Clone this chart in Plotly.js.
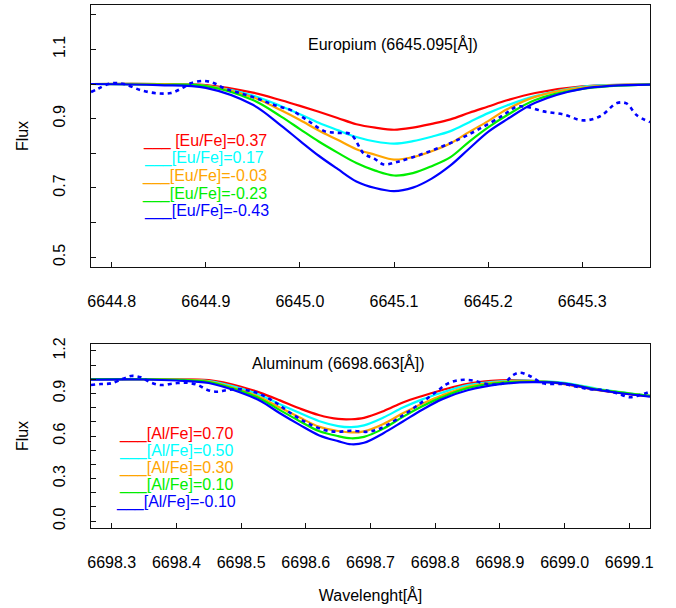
<!DOCTYPE html>
<html>
<head>
<meta charset="utf-8">
<script src="https://cdn.plot.ly/plotly-3.0.1.min.js"></script>
<style>html,body{margin:0;padding:0;background:#fff;}#chart{width:676px;height:608px;}</style>
</head>
<body>
<div id="chart"></div>
<script>
// ---------- Europium panel data ----------
const euX = [6644.778, 6644.85, 6644.90, 6644.95, 6644.98, 6645.00, 6645.02, 6645.04, 6645.06, 6645.08, 6645.10, 6645.12, 6645.14, 6645.16, 6645.18, 6645.20, 6645.22, 6645.25, 6645.30, 6645.372];
const euRed    = [1.000,1.000,0.997,0.975,0.953,0.937,0.920,0.902,0.884,0.874,0.868,0.874,0.885,0.898,0.917,0.935,0.953,0.974,0.993,0.999];
const euCyan   = [1.000,1.000,0.995,0.967,0.936,0.913,0.888,0.867,0.847,0.834,0.828,0.835,0.848,0.864,0.890,0.916,0.938,0.965,0.992,0.998];
const euOrange = [1.000,1.000,0.995,0.962,0.924,0.896,0.866,0.839,0.812,0.796,0.782,0.789,0.806,0.829,0.862,0.893,0.927,0.963,0.990,0.998];
const euGreen  = [1.000,0.998,0.994,0.954,0.906,0.870,0.834,0.802,0.772,0.750,0.736,0.743,0.763,0.789,0.834,0.875,0.910,0.954,0.986,0.998];
const euBlue   = [1.000,0.997,0.989,0.940,0.880,0.836,0.793,0.755,0.719,0.700,0.691,0.701,0.727,0.765,0.814,0.862,0.898,0.946,0.986,0.998];
const euObsX = [6644.778, 6644.786, 6644.799, 6644.813, 6644.831, 6644.849, 6644.863, 6644.874, 6644.884, 6644.898, 6644.909, 6644.920, 6644.937, 6644.955, 6644.973, 6644.991, 6645.008, 6645.026, 6645.040, 6645.054, 6645.068, 6645.079, 6645.089, 6645.103, 6645.120, 6645.145, 6645.170, 6645.191, 6645.216, 6645.230, 6645.241, 6645.259, 6645.280, 6645.301, 6645.319, 6645.337, 6645.347, 6645.358, 6645.372];
const euObsY = [0.977, 0.987, 1.002, 1.000, 0.982, 0.973, 0.974, 0.987, 1.002, 1.009, 1.002, 0.987, 0.973, 0.958, 0.939, 0.924, 0.895, 0.864, 0.859, 0.855, 0.799, 0.785, 0.768, 0.775, 0.789, 0.813, 0.842, 0.871, 0.910, 0.934, 0.934, 0.921, 0.912, 0.895, 0.907, 0.945, 0.944, 0.910, 0.890];
const euLabels = ["[Eu/Fe]=0.37", "[Eu/Fe]=0.17", "[Eu/Fe]=-0.03", "[Eu/Fe]=-0.23", "[Eu/Fe]=-0.43"];
const euTitle = "Europium (6645.095[Å])";
const euXTicks = [6644.8, 6644.9, 6645.0, 6645.1, 6645.2, 6645.3];
const euYTicks = [0.5, 0.6, 0.7, 0.8, 0.9, 1.0, 1.1, 1.2];
const euYTickText = ["0.5", "", "0.7", "", "0.9", "", "1.1", ""];

// ---------- Aluminum panel data ----------
const alX = [6698.268, 6698.35, 6698.40, 6698.45, 6698.50, 6698.53, 6698.56, 6698.59, 6698.62, 6698.65, 6698.67, 6698.69, 6698.72, 6698.75, 6698.78, 6698.81, 6698.85, 6698.90, 6698.95, 6699.00, 6699.05, 6699.10, 6699.132];
const alRed    = [1.000,1.000,1.000,0.993,0.947,0.904,0.851,0.795,0.748,0.720,0.718,0.728,0.775,0.836,0.882,0.922,0.968,0.992,0.989,0.966,0.925,0.895,0.880];
const alCyan   = [1.000,1.000,0.997,0.987,0.935,0.887,0.824,0.763,0.706,0.670,0.662,0.675,0.730,0.800,0.858,0.905,0.958,0.985,0.989,0.974,0.933,0.901,0.882];
const alOrange = [1.000,1.000,0.997,0.984,0.923,0.871,0.800,0.732,0.666,0.635,0.625,0.633,0.685,0.760,0.828,0.885,0.947,0.980,0.987,0.970,0.928,0.899,0.882];
const alGreen  = [1.000,1.000,0.996,0.980,0.916,0.861,0.782,0.706,0.635,0.599,0.584,0.594,0.652,0.735,0.810,0.872,0.937,0.975,0.983,0.969,0.928,0.899,0.882];
const alBlue   = [0.997,0.998,0.991,0.973,0.905,0.847,0.760,0.680,0.606,0.564,0.542,0.552,0.620,0.702,0.785,0.858,0.922,0.965,0.979,0.969,0.926,0.894,0.877];
const alObsX = [6698.268, 6698.283, 6698.299, 6698.319, 6698.330, 6698.345, 6698.361, 6698.376, 6698.397, 6698.417, 6698.433, 6698.448, 6698.464, 6698.479, 6698.500, 6698.526, 6698.551, 6698.577, 6698.603, 6698.629, 6698.649, 6698.670, 6698.696, 6698.716, 6698.751, 6698.777, 6698.802, 6698.818, 6698.838, 6698.859, 6698.880, 6698.905, 6698.921, 6698.931, 6698.946, 6698.967, 6698.998, 6699.019, 6699.039, 6699.060, 6699.081, 6699.101, 6699.117, 6699.132];
const alObsY = [0.959, 0.966, 0.971, 1.006, 1.023, 1.013, 0.975, 0.959, 0.971, 0.975, 0.959, 0.924, 0.912, 0.924, 0.929, 0.901, 0.842, 0.760, 0.690, 0.642, 0.630, 0.637, 0.630, 0.655, 0.748, 0.830, 0.912, 0.966, 0.994, 0.990, 0.966, 0.971, 1.030, 1.046, 1.023, 0.971, 0.966, 0.947, 0.929, 0.924, 0.901, 0.873, 0.889, 0.912];
const alLabels = ["[Al/Fe]=0.70", "[Al/Fe]=0.50", "[Al/Fe]=0.30", "[Al/Fe]=0.10", "[Al/Fe]=-0.10"];
const alTitle = "Aluminum (6698.663[Å])";
const alXTicks = [6698.3, 6698.4, 6698.5, 6698.6, 6698.7, 6698.8, 6698.9, 6699.0, 6699.1];
const alYTicks = [0.0, 0.1, 0.2, 0.3, 0.4, 0.5, 0.6, 0.7, 0.8, 0.9, 1.0, 1.1, 1.2];
const alYTickText = ["0.0", "", "", "0.3", "", "", "0.6", "", "", "0.9", "", "", "1.2"];

const colors = ["#ff0000", "#00ffff", "#ffa500", "#00ee00", "#0000ff"];
const FONT = "Liberation Sans, Arial, Helvetica, sans-serif";

const euModels = [euRed, euCyan, euOrange, euGreen, euBlue];
const alModels = [alRed, alCyan, alOrange, alGreen, alBlue];

const traces = [];
euModels.forEach((ys, i) => traces.push({
  x: euX, y: ys, xaxis: 'x', yaxis: 'y', type: 'scatter', mode: 'lines',
  name: euLabels[i], line: {color: colors[i], width: 2.2, shape: 'spline', smoothing: 1}
}));
traces.push({x: euObsX, y: euObsY, xaxis: 'x', yaxis: 'y', type: 'scatter', mode: 'lines', name: 'observed',
  line: {color: '#0000ff', width: 2.6, dash: '4px,4px', shape: 'spline', smoothing: 1}});
alModels.forEach((ys, i) => traces.push({
  x: alX, y: ys, xaxis: 'x2', yaxis: 'y2', type: 'scatter', mode: 'lines',
  name: alLabels[i], line: {color: colors[i], width: 2.2, shape: 'spline', smoothing: 1}
}));
traces.push({x: alObsX, y: alObsY, xaxis: 'x2', yaxis: 'y2', type: 'scatter', mode: 'lines', name: 'observed',
  line: {color: '#0000ff', width: 2.6, dash: '4px,4px', shape: 'spline', smoothing: 1}});

// layout geometry (pixels)
const L = 91, R = 650, T = 5, B = 528, W = R - L, H = B - T;
const px2x = p => (p - L) / W;
const py2y = p => (B - p) / H;

const annotations = [];
annotations.push({xref: 'paper', yref: 'paper', x: px2x(393), y: py2y(44), text: euTitle, showarrow: false,
  xanchor: 'center', yanchor: 'middle', font: {family: FONT, size: 16, color: '#000'}});
annotations.push({xref: 'paper', yref: 'paper', x: px2x(338), y: py2y(363), text: alTitle, showarrow: false,
  xanchor: 'center', yanchor: 'middle', font: {family: FONT, size: 16, color: '#000'}});

const euLegY = [141, 158.5, 176, 193.5, 211];
const euLegX = [141, 142, 140, 140, 142];
const euPrefix = ["___ ", "___", "___", "___", "___"];
euLabels.forEach((t, i) => annotations.push({xref: 'paper', yref: 'paper', x: px2x(euLegX[i]), y: py2y(euLegY[i]),
  text: euPrefix[i] + t, showarrow: false, xanchor: 'left', yanchor: 'middle', font: {family: FONT, size: 16, color: colors[i]}}));
const alLegY = [434, 451, 468, 485, 502];
const alLegX = [117, 117, 117, 117, 114];
alLabels.forEach((t, i) => annotations.push({xref: 'paper', yref: 'paper', x: px2x(alLegX[i]), y: py2y(alLegY[i]),
  text: "___" + t, showarrow: false, xanchor: 'left', yanchor: 'middle', font: {family: FONT, size: 16, color: colors[i]}}));

const axisCommon = {
  showline: true, mirror: true, linecolor: '#111', linewidth: 1.2, showgrid: false, zeroline: false,
  ticks: 'inside', ticklen: 5, tickwidth: 1, tickcolor: '#111',
  tickfont: {family: FONT, size: 16, color: '#000'}
};

const layout = {
  width: 676, height: 608,
  margin: {l: L, r: 676 - R, t: T, b: 608 - B},
  paper_bgcolor: '#fff', plot_bgcolor: '#fff',
  showlegend: false,
  font: {family: FONT, color: '#000'},
  xaxis: Object.assign({}, axisCommon, {domain: [0, 1], anchor: 'y', range: [6644.778, 6645.372],
    tickvals: euXTicks, tickformat: '.1f', ticklabelstandoff: 20}),
  yaxis: Object.assign({}, axisCommon, {domain: [py2y(267), 1], anchor: 'x', range: [0.472, 1.228],
    tickvals: euYTicks, ticktext: euYTickText, tickangle: -90, ticklabelstandoff: 18,
    title: {text: 'Flux', font: {family: FONT, size: 16, color: '#000'}, standoff: 18}}),
  xaxis2: Object.assign({}, axisCommon, {domain: [0, 1], anchor: 'y2', range: [6698.268, 6699.132],
    tickvals: alXTicks, tickformat: '.1f', ticklabelstandoff: 20,
    title: {text: 'Wavelenght[Å]', font: {family: FONT, size: 16, color: '#000'}, standoff: 19}}),
  yaxis2: Object.assign({}, axisCommon, {domain: [0, py2y(344)], anchor: 'x2', range: [-0.048, 1.248],
    tickvals: alYTicks, ticktext: alYTickText, tickangle: -90, ticklabelstandoff: 18,
    title: {text: 'Flux', font: {family: FONT, size: 16, color: '#000'}, standoff: 18}}),
  annotations: annotations
};

Plotly.newPlot('chart', traces, layout, {displayModeBar: false, staticPlot: true});
</script>
</body>
</html>
